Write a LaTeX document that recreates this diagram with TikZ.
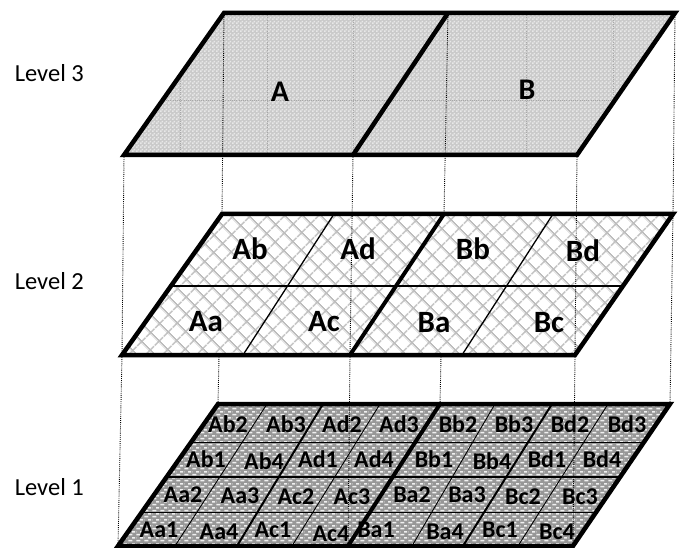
\documentclass[tikz,border=0pt]{standalone}
\usepackage{fontspec}
\setmainfont{Carlito}
\usetikzlibrary{patterns.meta}

\definecolor{lthree}{HTML}{CACACA}
\definecolor{lthreeP}{HTML}{E8E8E8}
\definecolor{ltwoP}{HTML}{BDBDBD}
\definecolor{loneB}{HTML}{979797}
\definecolor{loneP}{HTML}{F0F0F0}
\definecolor{faint}{HTML}{A8A8A8}

\tikzdeclarepattern{
  name=checker, type=uncolored,
  bounding box={(0pt,0pt) and (4pt,4pt)},
  tile size={(4pt,4pt)},
  code={\fill (0pt,0pt) rectangle (2pt,2pt); \fill (2pt,2pt) rectangle (4pt,4pt);}
}
\tikzdeclarepattern{
  name=wdash, type=uncolored,
  bounding box={(0pt,0pt) and (8pt,6pt)},
  tile size={(8pt,6pt)},
  code={\fill (0.5pt,0.8pt) rectangle (5pt,2.6pt);
        \fill (4.5pt,3.8pt) rectangle (8pt,5.6pt);
        \fill (0pt,3.8pt) rectangle (0.5pt,5.6pt);}
}

\begin{document}
\begin{tikzpicture}[x=1pt,y=-1pt,
  border/.style={line width=4.5pt,line join=miter},
  thickdiv/.style={line width=4pt},
  middiv/.style={line width=2pt},
  thindiv/.style={line width=0.9pt},
  twodiv/.style={line width=1.3pt},
  dotline/.style={line width=0.9pt,dash pattern=on 0.9pt off 1.2pt},
  faintline/.style={faint,line width=0.7pt,dash pattern=on 0.8pt off 1.4pt},
  lvltxt/.style={font=\fontsize{24.5}{28}\selectfont,anchor=base east,inner sep=0pt},
  bigl/.style={font=\bfseries\fontsize{30}{32}\selectfont,anchor=base},
  midl/.style={font=\bfseries\fontsize{31}{33}\selectfont,anchor=base},
  smll/.style={font=\bfseries\fontsize{24}{26}\selectfont,anchor=base,inner sep=0pt}
]
\useasboundingbox (0,0) rectangle (686,548);

% ---------- coordinates ----------
\coordinate (c3TL) at (224,13);  \coordinate (c3TR) at (675,13);
\coordinate (c3BR) at (577,155); \coordinate (c3BL) at (124,155);
\coordinate (c3MT) at (448,13);  \coordinate (c3MB) at (353,155);

\coordinate (c2TL) at (222,214); \coordinate (c2TR) at (673,214);
\coordinate (c2BR) at (575,355); \coordinate (c2BL) at (122,355);
\coordinate (c2MT) at (444,214); \coordinate (c2MB) at (350,355);

\coordinate (c1TL) at (218,404); \coordinate (c1TR) at (670,404);
\coordinate (c1BR) at (573,546); \coordinate (c1BL) at (118,546);
\coordinate (c1MT) at (440,404); \coordinate (c1MB) at (348,546);

% ---------- Level 3 ----------
\fill[lthree] (c3TL) -- (c3TR) -- (c3BR) -- (c3BL) -- cycle;
\fill[pattern=checker,pattern color=lthreeP] (c3TL) -- (c3TR) -- (c3BR) -- (c3BL) -- cycle;
\begin{scope}
  \clip (c3TL) -- (c3TR) -- (c3BR) -- (c3BL) -- cycle;
  \foreach \xx in {180,267,353,526,613} \draw[faintline] (\xx,13) -- (\xx,155);
  \draw[faintline] (100,100) -- (680,100);
\end{scope}
\draw[border] (c3MT) -- (c3MB);
\draw[border] (c3TL) -- (c3TR) -- (c3BR) -- (c3BL) -- cycle;
\node[bigl] (nA) at (280,102) {A};
\node[bigl] (nB) at (527,100) {B};

% ---------- Level 1 ----------
\fill[loneB] (c1TL) -- (c1TR) -- (c1BR) -- (c1BL) -- cycle;
\fill[pattern=wdash,pattern color=loneP] (c1TL) -- (c1TR) -- (c1BR) -- (c1BL) -- cycle;
% rows
\draw[thindiv] (191.2,442) -- (644.0,442);
\draw[middiv]  (166.6,477) -- (620.1,477);
\draw[thindiv] (141.9,512) -- (596.2,512);
% columns
\draw[thindiv] (267,404) -- (175,546);
\draw[middiv]  (323,404) -- (237,546);
\draw[thindiv] (380,404) -- (292,546);
\draw[thickdiv] (c1MT) -- (c1MB);
\draw[thindiv] (495,404) -- (412,546);
\draw[middiv]  (552,404) -- (463,546);
\draw[thindiv] (608,404) -- (518,546);
\draw[border] (c1TL) -- (c1TR) -- (c1BR) -- (c1BL) -- cycle;

% row 1
\node[smll] (Ab2) at (228,432) {Ab2};
\node[smll] (Ab3) at (286,432) {Ab3};
\node[smll] (Ad2) at (342,432) {Ad2};
\node[smll] (Ad3) at (399,432) {Ad3};
\node[smll] (Bb2) at (458,432) {Bb2};
\node[smll] (Bb3) at (514,432) {Bb3};
\node[smll] (Bd2) at (570,432) {Bd2};
\node[smll] (Bd3) at (627,432) {Bd3};
% row 2
\node[smll] (Ab1) at (206,467) {Ab1};
\node[smll] (Ab4) at (264,469) {Ab4};
\node[smll] (Ad1) at (318,467) {Ad1};
\node[smll] (Ad4) at (374,467) {Ad4};
\node[smll] (Bb1) at (434,467) {Bb1};
\node[smll] (Bb4) at (492,469) {Bb4};
\node[smll] (Bd1) at (547,467) {Bd1};
\node[smll] (Bd4) at (602,467) {Bd4};
% row 3
\node[smll] (Aa2) at (183,502) {Aa2};
\node[smll] (Aa3) at (240,503) {Aa3};
\node[smll] (Ac2) at (296,504) {Ac2};
\node[smll] (Ac3) at (352,504) {Ac3};
\node[smll] (Ba2) at (412,502) {Ba2};
\node[smll] (Ba3) at (467,502) {Ba3};
\node[smll] (Bc2) at (523,504) {Bc2};
\node[smll] (Bc3) at (580,504) {Bc3};
% row 4
\node[smll] (Aa1) at (159,537) {Aa1};
\node[smll] (Aa4) at (219,539) {Aa4};
\node[smll] (Ac1) at (273,537) {Ac1};
\node[smll] (Ac4) at (331,541) {Ac4};
\node[smll] (Ba1) at (376,537) {Ba1};
\node[smll] (Ba4) at (445,539) {Ba4};
\node[smll] (Bc1) at (500,537) {Bc1};
\node[smll] (Bc4) at (557,539) {Bc4};

% ---------- dotted lines level 2 -> level 1 (behind level 2) ----------
\draw[dotline] (c2TL) -- (c1TL);
\draw[dotline] (c2MT) -- (c1MT);
\draw[dotline] (c2TR) -- (c1TR);
\draw[dotline] (c2BL) -- (c1BL);
\draw[dotline] (c2MB) -- (c1MB);
\draw[dotline] (c2BR) -- (c1BR);

% ---------- Level 2 ----------
\fill[white] (c2TL) -- (c2TR) -- (c2BR) -- (c2BL) -- cycle;
\fill[pattern={Hatch[angle=45,distance=13pt,line width=1.6pt]},pattern color=ltwoP]
  (c2TL) -- (c2TR) -- (c2BR) -- (c2BL) -- cycle;
\draw[twodiv] (171,286) -- (623,286);
\draw[twodiv] (334,214) -- (243,355);
\draw[twodiv] (553,214) -- (462,355);
\draw[thickdiv] (c2MT) -- (c2MB);
\draw[border] (c2TL) -- (c2TR) -- (c2BR) -- (c2BL) -- cycle;
\node[midl] (Ab) at (250,260) {Ab};
\node[midl] (Ad) at (358,260) {Ad};
\node[midl] (Bb) at (473,260) {Bb};
\node[midl] (Bd) at (583,262) {Bd};
\node[midl] (Aa) at (206,332) {Aa};
\node[midl] (Ac) at (324,332) {Ac};
\node[midl] (Ba) at (434,333) {Ba};
\node[midl] (Bc) at (549,333) {Bc};

% ---------- dotted lines level 3 -> level 2 ----------
\draw[dotline] (c3TL) -- (c2TL);
\draw[dotline] (c3MT) -- (c2MT);
\draw[dotline] (c3TR) -- (c2TR);
\draw[dotline] (c3BL) -- (c2BL);
\draw[dotline] (c3MB) -- (c2MB);
\draw[dotline] (c3BR) -- (c2BR);

% ---------- level labels ----------
\node[lvltxt] (lv3) at (84,82) {Level 3};
\node[lvltxt] (lv2) at (84,290) {Level 2};
\node[lvltxt] (lv1) at (84,495) {Level 1};
\end{tikzpicture}
\end{document}
